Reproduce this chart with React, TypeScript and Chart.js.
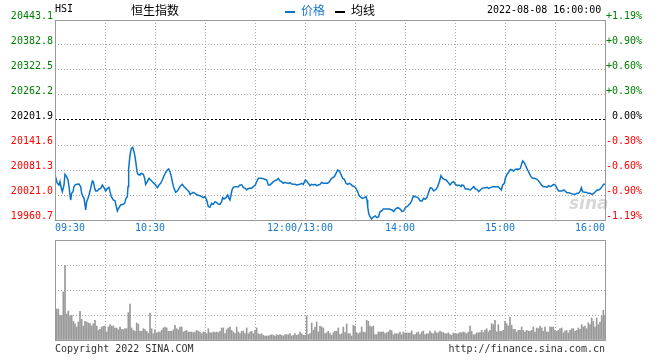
import React, { useEffect, useRef } from "react";
import { Chart, registerables } from "chart.js";

Chart.register(...registerables);

// ---------- data ----------
const prevClose = 20201.9;
const priceTicks = [20443.1, 20382.8, 20322.5, 20262.2, 20201.9, 20141.6, 20081.3, 20021.0, 19960.7];
const timeTicks = [0, 30, 60, 90, 120, 150, 180, 210, 240, 270, 300, 330];
const timeLabels: Record<number, string> = {
  0: "09:30",
  60: "10:30",
  150: "12:00/13:00",
  210: "14:00",
  270: "15:00",
  330: "16:00",
};
const volumeTicks = [0, 25, 50, 75, 100];

// minutes since 09:30 (lunch break removed)
const priceMinutes = [
  0, 1.4, 2.4, 3, 3.8, 4.4, 5.4, 6, 7, 7.8, 8.4, 9, 9.4, 10, 10.8, 11.4, 12, 13, 14.4, 15.4,
  16, 16.8, 17.4, 18, 18.4, 19, 19.8, 20.4, 21.4, 22.4, 23, 23.8, 24.4, 25.4, 26.4, 27.4, 28.4, 29.4, 30.4, 31.4,
  32.4, 33, 33.8, 35, 36, 36.8, 37.4, 38.4, 39.4, 40.8, 41.8, 42.6, 43.4, 43.8, 44.2, 45, 45.8, 46.6, 47.4, 48,
  48.6, 49.2, 49.8, 51, 51.8, 53, 53.8, 54.4, 55.4, 56.4, 57.4, 58.4, 59.4, 60.4, 61.4, 62.4, 63.4, 64.4, 65.4, 66.4,
  67.4, 68.2, 69, 69.8, 70.6, 71.4, 72.4, 73.4, 74.4, 75.4, 76.4, 77.4, 78.4, 79.4, 80.4,
  81, 82, 83, 84, 85.4, 87, 88, 89, 90, 91, 92, 93, 94, 95, 96, 97, 98, 99, 100, 100.6,
  101.4, 102.6, 103.6, 104.4, 105, 105.6, 106.2, 107, 108, 110, 111, 112.2, 113, 114.2, 115, 115.6, 116.6, 118, 119, 120.2,
  121, 122, 124, 125.4, 127, 128, 129, 130, 131, 132, 133, 134, 135, 136, 137, 138, 140, 141, 142, 144,
  145, 147, 148, 149, 150.2, 151, 152, 153, 154, 155, 156, 157, 158, 159, 160, 161, 162,
  163.6, 164.6, 165.6, 166.6, 167.6, 168.6, 169.6, 170.6, 171.6, 172.6, 173.6, 174.6, 175.6, 176.6, 177.6, 178.6, 179.6, 180.6, 181.6, 182.6,
  183.6, 184.6, 185.6, 186.6, 187.2, 187.6, 188.2, 189, 190, 191, 192.2, 193.2, 194.2, 195, 196, 197, 198.6, 200.6, 202.2, 203.2,
  204.2, 205.6, 206.6, 207.6, 208.2, 209.2, 210.2, 211.6, 213.2, 214.2, 215, 216.2, 217.6, 219.2, 220.2, 221.2, 222.2, 223.2, 224.2, 225.2,
  226.2, 227.2, 228.6, 229.6, 230.6, 231.6, 232.6, 233.6, 234.6, 235.6, 237, 238.2, 239.2, 240.2, 241.6, 242.6, 243.6,
  244.2, 245.2, 246.2, 247.8, 249.2, 250.2, 251.2, 252.2, 253.2, 254.2, 255.2, 256.2, 258.2, 259.2, 260.2, 261.6, 262.8, 264.2, 265.8, 266.8,
  267.8, 268.6, 269.6, 270.2, 271.2, 272.2, 273.2, 274.2, 275.2, 276.2, 277.2, 278.2, 279.2, 279.8, 280.6, 281.6, 282.6, 283.6, 284.6, 285.6,
  286.6, 287.8, 289.2, 290.2, 291.2, 292.2, 293.2, 294.2, 295.2, 296.2, 297.2, 298.2, 299.2, 300.2, 301.2, 302.2, 304.2, 305.2, 306.2, 307.2,
  308.2, 309.6, 310.8, 312.2, 313.2, 314.2, 315.2, 315.8, 316.6, 317.6, 318.6, 319.8, 321.2, 322.2, 323.2, 324.2, 325.2, 326.2, 327.2, 328.2,
  329.2, 330,
];

const priceValues = [
  20069.2, 20049.1, 20045.1, 20053.1, 20037.1, 20029.0, 20045.1, 20070.8, 20065.2, 20057.2, 20041.1, 20021.0, 20008.9, 20025.0, 20029.0, 20041.1, 20045.1, 20046.7, 20047.5, 20041.1,
  20025.0, 20017.0, 20013.0, 19996.9, 19984.8, 20004.9, 20013.0, 20021.0, 20037.1, 20054.8, 20053.1, 20037.1, 20030.6, 20030.6, 20035.5, 20037.1, 20045.1, 20038.7, 20030.6, 20037.1,
  20039.5, 20029.0, 20017.0, 20008.9, 20007.3, 19992.9, 19982.4, 19990.4, 19996.9, 19998.5, 20000.9, 20013.0, 20017.0, 20041.1, 20085.3, 20117.5, 20133.6, 20136.0, 20125.5, 20113.5,
  20097.4, 20077.3, 20070.8, 20069.2, 20073.3, 20070.8, 20061.2, 20046.7, 20053.1, 20061.2, 20057.2, 20053.1, 20049.1, 20045.1, 20038.7, 20045.1, 20049.1, 20057.2, 20067.6, 20075.7,
  20081.3, 20083.7, 20077.3, 20065.2, 20049.1, 20037.1, 20027.4, 20030.6, 20037.1, 20043.5, 20046.7, 20041.1, 20037.1, 20033.1, 20029.0,
  20022.6, 20025.0, 20027.4, 20025.0, 20021.0, 20019.4, 20017.0, 20014.6, 20017.0, 20008.9, 19992.9, 19992.0, 20000.9, 19998.5, 20004.9, 20002.5, 19999.3, 19998.5, 20004.9, 20014.6,
  20011.4, 20014.6, 20021.0, 20013.0, 20008.9, 20021.0, 20033.1, 20039.5, 20041.1, 20041.1, 20045.1, 20045.1, 20038.7, 20037.1, 20033.1, 20035.5, 20037.1, 20037.1, 20041.1, 20045.1,
  20053.1, 20061.2, 20061.2, 20059.6, 20057.2, 20045.1, 20045.1, 20049.1, 20053.1, 20055.6, 20057.2, 20061.2, 20054.8, 20053.1, 20049.1, 20051.5, 20049.1, 20050.7, 20047.5, 20046.7,
  20045.1, 20046.7, 20049.1, 20046.7, 20057.2, 20054.8, 20049.1, 20043.5, 20046.7, 20045.1, 20046.7, 20043.5, 20045.1, 20046.7, 20051.5, 20049.1, 20049.1,
  20049.1, 20053.1, 20059.6, 20062.8, 20065.2, 20073.3, 20081.3, 20078.9, 20070.8, 20061.2, 20058.8, 20049.1, 20046.7, 20049.1, 20046.7, 20042.7, 20041.1, 20037.1, 20029.0, 20018.6,
  20015.4, 20013.0, 20014.6, 20017.0, 20008.9, 19992.9, 19976.8, 19968.7, 19963.1, 19967.9, 19970.3, 19966.3, 19968.7, 19980.8, 19982.4, 19987.2, 19987.2, 19987.2, 19984.8, 19980.8,
  19987.2, 19990.4, 19988.8, 19984.8, 19980.8, 19982.4, 19990.4, 19994.5, 20000.9, 20008.9, 20018.6, 20017.0, 20015.4, 20006.5, 20006.5, 20013.0, 20010.6, 20015.4, 20027.4, 20038.7,
  20037.1, 20030.6, 20034.7, 20041.1, 20053.1, 20067.6, 20061.2, 20058.8, 20057.2, 20053.1, 20045.1, 20051.5, 20053.1, 20046.7, 20043.5, 20045.1, 20041.1,
  20045.1, 20043.5, 20035.5, 20035.5, 20033.1, 20037.1, 20041.1, 20035.5, 20034.7, 20029.0, 20033.1, 20037.1, 20038.7, 20039.5, 20037.1, 20039.5, 20041.1, 20041.1, 20041.1, 20037.1,
  20033.1, 20045.1, 20049.1, 20061.2, 20070.8, 20075.7, 20082.9, 20081.3, 20078.9, 20082.9, 20083.7, 20082.9, 20085.3, 20093.3, 20103.0, 20099.0, 20089.3, 20081.3, 20073.3, 20065.2,
  20061.2, 20061.2, 20058.8, 20054.8, 20049.1, 20043.5, 20041.1, 20041.1, 20039.5, 20043.5, 20041.1, 20043.5, 20046.7, 20045.1, 20037.1, 20030.6, 20030.6, 20033.1, 20030.6, 20026.6,
  20026.6, 20025.0, 20022.6, 20022.6, 20025.0, 20025.0, 20030.6, 20038.7, 20029.0, 20027.4, 20027.4, 20025.0, 20025.0, 20022.6, 20025.0, 20029.0, 20033.1, 20033.1, 20035.5, 20041.1,
  20046.7, 20046.7,
];

// per-minute volume (relative units), morning session minutes 1..165
const volumeAM = [
  31, 31, 24.7, 24.7, 48, 74.7, 26, 29, 24, 24.7, 18.7, 16.3, 13, 18, 28.7, 20.7, 14, 18.7, 18, 17,
  16.3, 14, 16.3, 19.7, 14, 9.7, 10.7, 13, 13.7, 14, 8, 13, 15.3, 14, 14, 12, 12, 10.3, 13, 10.7,
  10.3, 11.3, 11.3, 27.3, 36, 12, 9.7, 8.7, 17, 16, 8.7, 8.7, 11.3, 10.3, 8.7, 7, 27, 11.3, 6.3, 10.3,
  7, 8, 8, 9.7, 12, 13, 12, 8.7, 8.7, 8.7, 10.3, 14.7, 11.3, 10.3, 13, 13, 8, 8.7, 9.7, 8,
  8, 8, 7.3, 8, 9.7, 8.7, 8, 6.3, 8, 8, 6.3, 11.3, 7.3, 7, 8, 7.3, 8, 7.3, 8.7, 12,
  12, 6.3, 10.3, 12, 13, 9.7, 8, 6.3, 13, 8, 6.3, 8.7, 9, 6.3, 12, 6.3, 8, 8.7, 6.3, 9.7,
  12, 6.3, 5.3, 6.3, 4.7, 4, 4, 4, 4.7, 5.3, 4.7, 4, 5.3, 4.7, 5.3, 4.7, 4, 5.3, 5.3, 5.3,
  6.3, 4, 4.7, 6.3, 4.7, 5.3, 8, 6.3, 4.7, 4.7, 24, 5.3, 6.3, 17, 9.7, 13, 18, 8, 14, 13,
  12, 6.3, 7.3, 8.7, 6.3,
];

// afternoon session minutes 166..330
const volumePM = [
  4.7, 7.3, 8.7, 8.7, 12, 5.3, 6.3, 13, 7.3, 16, 6.3, 6.3, 4, 14.7, 14, 7.3, 6.3, 7.3, 13, 8,
  7.3, 19.7, 18.7, 14, 13, 14, 5.3, 5.3, 8, 8, 8, 8, 6.3, 7.3, 8, 10, 9.3, 5.3, 6.3, 6.3,
  6.3, 8, 5.3, 8, 7, 7, 7, 7, 9, 5.3, 5.3, 7.3, 8, 5.3, 8, 9, 5.3, 6.3, 6.3, 9,
  7, 6.3, 9, 7, 7.3, 9, 8, 7.3, 6.3, 6.3, 7.3, 5.3, 4.7, 7, 6.3, 6.3, 6.3, 7.3, 7.3, 8,
  7.3, 6.3, 8, 14, 8.7, 5.3, 5.3, 7, 7.3, 7.3, 9.7, 7.3, 9.7, 11.3, 8, 9.7, 16.3, 15.3, 19.7, 8,
  15.3, 8.7, 8.7, 9.7, 18.7, 16.3, 14, 23, 14.7, 10.7, 10.7, 8, 9.7, 9.7, 13, 9.7, 8, 9.7, 9, 8.7,
  9.7, 13, 8, 12, 11.3, 14, 12, 8.7, 13, 8, 8, 13, 13, 13, 9.7, 8.7, 9.7, 11.3, 12, 7.3,
  8.7, 9.7, 7, 9.7, 11.3, 11.3, 8.7, 9.7, 12, 10.7, 15.3, 13, 14, 11.3, 17.3, 15.3, 22, 18.7, 13, 22,
  15.3, 18, 23.7, 29.7, 24.7,
];

// ---------- styles ----------
const MONO = '"DejaVu Sans Mono", "Liberation Mono", monospace';
const CJK = '"Noto Sans CJK SC", sans-serif';
const LINE_BLUE = "#0c74c8";
const LABEL_BLUE = "#1a78cc";
const GRID = "#a8a8a8";
const FRAME = "#999999";
const UP = "#008000";
const DOWN = "#ff0000";

const colorFor = (v: number) => (Math.abs(v - prevClose) < 0.01 ? "#000000" : v > prevClose ? UP : DOWN);

const framePlugin = {
  id: "frame",
  afterDraw(chart: any) {
    const { ctx, chartArea } = chart;
    ctx.save();
    ctx.strokeStyle = FRAME;
    ctx.lineWidth = 1;
    ctx.setLineDash([]);
    ctx.strokeRect(
      Math.round(chartArea.left) + 0.5,
      Math.round(chartArea.top) + 0.5,
      Math.round(chartArea.right - chartArea.left),
      Math.round(chartArea.bottom - chartArea.top)
    );
    ctx.restore();
  },
};

// middle time labels sit slightly left of their grid line, as in the original
const xLabelShiftPlugin = {
  id: "xLabelShift",
  beforeDraw(chart: any) {
    const scale = chart.scales.x;
    if (!scale || !scale.getLabelItems) return;
    const items = scale.getLabelItems(chart.chartArea);
    if (!items || (items as any)._shifted) return;
    items.forEach((it: any) => {
      if (it.label && it.label !== timeLabels[0] && it.label !== timeLabels[330] && it.options && it.options.translation) {
        it.options.translation[0] -= 5;
      }
    });
    (items as any)._shifted = true;
  },
};

const setTicks = (vals: number[]) => (scale: any) => {
  scale.ticks = [...vals].sort((a, b) => a - b).map((v) => ({ value: v }));
};

export default function App() {
  const priceRef = useRef<HTMLCanvasElement | null>(null);
  const volRef = useRef<HTMLCanvasElement | null>(null);

  useEffect(() => {
    document.body.style.margin = "0";
    const isClose = (ctx: any) => ctx.tick && Math.abs(ctx.tick.value - prevClose) < 0.01;

    const priceChart = new Chart(priceRef.current as HTMLCanvasElement, {
      type: "line",
      data: {
        datasets: [
          {
            label: "价格",
            data: priceMinutes.map((m, i) => ({ x: m, y: priceValues[i] })),
            borderColor: LINE_BLUE,
            borderWidth: 1.5,
            pointRadius: 0,
            tension: 0,
            fill: false,
            yAxisID: "y",
          },
        ],
      },
      options: {
        animation: false,
        responsive: false,
        maintainAspectRatio: false,
        events: [],
        layout: { padding: { top: 20, left: 0, right: 18, bottom: 0 } },
        plugins: { legend: { display: false }, tooltip: { enabled: false } },
        scales: {
          x: {
            type: "linear",
            min: 0,
            max: 330,
            offset: false,
            afterBuildTicks: setTicks(timeTicks),
            afterFit: (s: any) => {
              s.height = 20;
            },
            ticks: {
              autoSkip: false,
              maxRotation: 0,
              align: "inner",
              padding: 2,
              color: LABEL_BLUE,
              font: { family: MONO, size: 10 },
              callback: (v: any) => timeLabels[Number(v)] ?? "",
            },
            grid: { color: GRID, drawTicks: false, lineWidth: 1 },
            border: { display: false, dash: [1, 2] },
          },
          y: {
            position: "left",
            min: 19960.7,
            max: 20443.1,
            afterBuildTicks: setTicks(priceTicks),
            afterFit: (s: any) => {
              s.width = 55;
            },
            ticks: {
              padding: 2,
              labelOffset: -4,
              color: (ctx: any) => colorFor(ctx.tick.value),
              font: { family: MONO, size: 10 },
              callback: (v: any) => Number(v).toFixed(1),
            },
            grid: {
              color: (ctx: any) => (isClose(ctx) ? "#000000" : GRID),
              drawTicks: false,
              lineWidth: 1,
            },
            border: { display: false, dash: (ctx: any) => (isClose(ctx) ? [2, 2] : [1, 2]) },
          },
          y2: {
            position: "right",
            min: 19960.7,
            max: 20443.1,
            afterBuildTicks: setTicks(priceTicks),
            afterFit: (s: any) => {
              s.width = 37;
            },
            ticks: {
              padding: 1,
              crossAlign: "far",
              labelOffset: -4,
              color: (ctx: any) => colorFor(ctx.tick.value),
              font: { family: MONO, size: 10 },
              callback: (v: any) => {
                const p = ((Number(v) - prevClose) / prevClose) * 100;
                const s = p.toFixed(2);
                return (p > 0.001 ? "+" : "") + (s === "-0.00" ? "0.00" : s) + "%";
              },
            },
            grid: { display: false, drawTicks: false },
            border: { display: false },
          },
        },
      } as any,
      plugins: [framePlugin, xLabelShiftPlugin],
    });

    const volumes = [...volumeAM, ...volumePM];
    const volChart = new Chart(volRef.current as HTMLCanvasElement, {
      type: "bar",
      data: {
        datasets: [
          {
            label: "成交量",
            data: volumes.map((v, i) => ({ x: i + 1, y: v })),
            backgroundColor: "#999999",
            borderWidth: 0,
            barThickness: 1,
          },
        ],
      },
      options: {
        animation: false,
        responsive: false,
        maintainAspectRatio: false,
        events: [],
        layout: { padding: { top: 5, bottom: 5, left: 55, right: 55 } },
        plugins: { legend: { display: false }, tooltip: { enabled: false } },
        scales: {
          x: {
            type: "linear",
            min: 0,
            max: 330,
            offset: false,
            afterBuildTicks: setTicks(timeTicks),
            afterFit: (s: any) => {
              s.height = 0;
            },
            ticks: { display: false },
            grid: { color: GRID, drawTicks: false, lineWidth: 1, offset: false },
            border: { display: false, dash: [1, 2] },
          },
          y: {
            min: 0,
            max: 100,
            afterBuildTicks: setTicks(volumeTicks),
            afterFit: (s: any) => {
              s.width = 0;
            },
            ticks: { display: false },
            grid: { color: GRID, drawTicks: false, lineWidth: 1 },
            border: { display: false, dash: [1, 2] },
          },
        },
      } as any,
      plugins: [framePlugin],
    });

    return () => {
      priceChart.destroy();
      volChart.destroy();
    };
  }, []);

  const abs = (style: React.CSSProperties): React.CSSProperties => ({ position: "absolute", whiteSpace: "nowrap", ...style });

  return (
    <div style={{ position: "fixed", left: 0, top: 0, width: 660, height: 360, background: "#ffffff", overflow: "hidden" }}>
      <canvas ref={priceRef} width={660} height={240} style={abs({ left: 0, top: 0, width: 660, height: 240 })} />
      <canvas ref={volRef} width={660} height={110} style={abs({ left: 0, top: 235, width: 660, height: 110 })} />

      <div style={abs({ left: 55, top: 3, font: `10px ${MONO}`, lineHeight: "12px", color: "#000" })}>HSI</div>
      <div style={abs({ left: 131, top: 3, font: `12px ${CJK}`, lineHeight: "14px", color: "#000" })}>恒生指数</div>

      <div style={abs({ left: 285, top: 11, width: 10, height: 2, background: LINE_BLUE })} />
      <div style={abs({ left: 301, top: 3, font: `12px ${CJK}`, lineHeight: "14px", color: LABEL_BLUE })}>价格</div>
      <div style={abs({ left: 335, top: 11, width: 10, height: 2, background: "#000" })} />
      <div style={abs({ left: 351, top: 3, font: `12px ${CJK}`, lineHeight: "14px", color: "#000" })}>均线</div>

      <div style={abs({ left: 487, top: 4, font: `10px ${MONO}`, lineHeight: "12px", color: "#000" })}>2022-08-08 16:00:00</div>

      <div
        style={abs({
          left: 569,
          top: 194,
          font: `italic bold 17px "DejaVu Sans", sans-serif`,
          lineHeight: "18px",
          color: "rgba(140,140,140,0.35)",
        })}
      >
        sina
      </div>

      <div style={abs({ left: 55, top: 343, font: `10px ${MONO}`, lineHeight: "12px", color: "#333" })}>Copyright 2022 SINA.COM</div>
      <div style={abs({ right: 55, top: 343, font: `10px ${MONO}`, lineHeight: "12px", color: "#333" })}>http://finance.sina.com.cn</div>
    </div>
  );
}
